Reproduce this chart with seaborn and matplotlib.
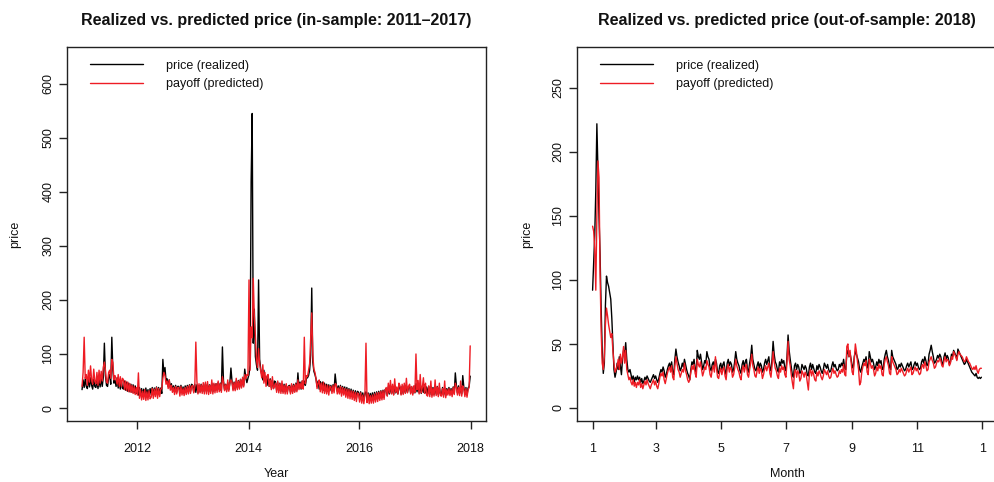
import pandas as pd
import matplotlib
matplotlib.use("Agg")
import matplotlib.pyplot as plt
import matplotlib.dates as mdates
import seaborn as sns

sns.set_theme(style="ticks")
plt.rcParams["font.family"] = ["Liberation Sans", "DejaVu Sans"]

# ---------------------------------------------------------------------------
# In-sample period 2011-2017, weekly observations (one block per year)
# ---------------------------------------------------------------------------
price_2011 = [34, 52, 38, 54, 40, 36, 55, 39, 56, 42, 35, 53, 40,
              38, 52, 36, 54, 39, 55, 40, 57, 120, 60, 42, 40, 56,
              62, 44, 131, 70, 46, 52, 40, 56, 37, 52, 35, 50, 37,
              35, 50, 33, 48, 31, 46, 30, 44, 29, 43, 28, 41, 27]
payoff_2011 = [40, 66, 131, 55, 62, 42, 70, 48, 78, 52, 44, 72, 50,
               45, 66, 42, 70, 46, 68, 50, 75, 85, 70, 48, 46, 66,
               70, 55, 90, 84, 52, 60, 54, 44, 62, 40, 58, 40, 55,
               52, 34, 50, 32, 48, 30, 45, 29, 42, 27, 40, 25, 38]

price_2012 = [37, 24, 38, 25, 36, 23, 35, 24, 37, 23, 34, 24, 36,
              25, 38, 24, 37, 26, 39, 25, 38, 26, 37, 27, 90, 62,
              75, 50, 54, 40, 52, 37, 45, 33, 41, 30, 42, 29, 40,
              40, 28, 42, 29, 39, 27, 41, 29, 42, 30, 43, 31, 44]
payoff_2012 = [24, 65, 18, 34, 15, 31, 16, 34, 14, 30, 15, 32, 17,
               20, 36, 18, 35, 21, 38, 18, 36, 21, 35, 36, 55, 66,
               60, 44, 50, 36, 52, 33, 42, 29, 38, 25, 40, 26, 38,
               38, 22, 40, 24, 36, 23, 38, 25, 40, 26, 42, 27, 40]

price_2013 = [42, 30, 44, 29, 43, 28, 42, 30, 44, 31, 42, 30, 45,
              31, 44, 30, 43, 31, 46, 30, 44, 32, 45, 33, 47, 34,
              46, 32, 113, 50, 34, 44, 33, 47, 34, 46, 74, 50, 35,
              48, 35, 50, 37, 51, 38, 53, 40, 54, 42, 72, 56, 47]
payoff_2013 = [42, 28, 38, 122, 50, 26, 45, 28, 43, 27, 47, 26, 48,
               26, 49, 25, 42, 27, 52, 26, 46, 28, 45, 29, 50, 30,
               45, 29, 58, 48, 32, 43, 30, 52, 31, 46, 52, 48, 32,
               47, 32, 55, 34, 50, 35, 53, 37, 57, 39, 62, 54, 62]

price_2014 = [55, 62, 80, 420, 545, 120, 183, 95, 80, 70, 237, 90, 72,
              62, 52, 70, 50, 58, 42, 58, 40, 54, 38, 52, 36, 50,
              48, 33, 47, 32, 46, 31, 45, 30, 44, 30, 43, 30, 40,
              42, 29, 43, 30, 44, 31, 46, 33, 65, 37, 48, 35, 50]
payoff_2014 = [60, 237, 70, 150, 130, 240, 170, 135, 90, 75, 110, 82, 68,
               56, 80, 46, 66, 40, 60, 62, 40, 52, 34, 58, 36, 40,
               46, 29, 50, 28, 45, 27, 50, 27, 42, 26, 45, 26, 40,
               40, 26, 45, 27, 42, 29, 45, 30, 52, 34, 46, 36, 50]

price_2015 = [38, 50, 42, 55, 56, 60, 70, 98, 222, 85, 68, 62, 54,
              40, 50, 35, 49, 37, 48, 33, 46, 32, 44, 31, 43, 32,
              42, 31, 43, 32, 63, 45, 31, 41, 30, 42, 28, 40, 29,
              39, 25, 38, 24, 36, 23, 35, 21, 33, 20, 32, 19, 31]
payoff_2015 = [35, 131, 45, 60, 58, 70, 82, 130, 176, 98, 72, 66, 55,
               36, 46, 52, 30, 46, 28, 48, 27, 43, 26, 42, 24, 40,
               39, 27, 42, 28, 45, 44, 26, 37, 26, 40, 22, 38, 24,
               36, 20, 35, 18, 34, 17, 32, 16, 31, 14, 29, 12, 28]

price_2016 = [29, 17, 30, 15, 28, 14, 27, 30, 16, 28, 15, 27, 16,
              28, 15, 29, 16, 30, 17, 31, 18, 32, 19, 33, 20, 34,
              36, 23, 39, 26, 41, 27, 40, 25, 42, 28, 37, 26, 39,
              39, 26, 40, 27, 41, 28, 42, 29, 38, 41, 28, 39, 27]
payoff_2016 = [26, 11, 28, 9, 24, 8, 25, 120, 10, 26, 8, 23, 9,
               24, 9, 26, 11, 28, 12, 29, 14, 31, 15, 32, 16, 33,
               38, 22, 46, 28, 51, 26, 44, 24, 54, 29, 39, 26, 46,
               41, 24, 44, 25, 46, 27, 55, 28, 40, 44, 26, 40, 24]

price_2017 = [40, 28, 45, 30, 43, 28, 42, 27, 41, 29, 43, 28, 39,
              26, 40, 25, 39, 24, 38, 25, 39, 26, 40, 25, 38, 26,
              25, 38, 24, 37, 23, 36, 27, 38, 26, 36, 25, 39, 27,
              65, 42, 28, 41, 27, 40, 26, 60, 39, 25, 38, 24, 37, 40, 59]
payoff_2017 = [41, 29, 100, 34, 51, 26, 62, 28, 38, 56, 27, 46, 24,
               22, 41, 21, 50, 20, 36, 22, 52, 23, 39, 21, 46, 23,
               22, 36, 20, 50, 19, 34, 24, 36, 23, 34, 21, 38, 25,
               46, 39, 24, 38, 23, 50, 22, 41, 36, 21, 36, 20, 34, 38, 115]

price_in = (price_2011 + price_2012 + price_2013 + price_2014
            + price_2015 + price_2016 + price_2017)
payoff_in = (payoff_2011 + payoff_2012 + payoff_2013 + payoff_2014
             + payoff_2015 + payoff_2016 + payoff_2017)

# ---------------------------------------------------------------------------
# Out-of-sample period 2018, daily observations (one row per week)
# ---------------------------------------------------------------------------
price_2018 = [
    92, 113, 135, 170, 222, 185, 150,
    120, 78, 45, 27, 35, 80, 103,
    98, 95, 90, 85, 70, 50, 30,
    24, 28, 35, 30, 40, 33, 26,
    38, 45, 42, 51, 38, 30, 28,
    30, 26, 22, 25, 20, 24, 22,
    25, 22, 24, 20, 23, 19, 21,
    24, 22, 25, 23, 21, 20, 22,
    24, 26, 23, 25, 22, 20, 23,
    27, 30, 28, 32, 29, 24, 26,
    30, 33, 35, 31, 36, 28, 26,
    38, 46, 40, 36, 33, 29, 31,
    35, 32, 38, 34, 30, 27, 25,
    22, 30, 36, 34, 38, 30, 28,
    45, 40, 38, 42, 36, 30, 33,
    37, 35, 44, 40, 38, 31, 29,
    34, 36, 32, 38, 35, 28, 27,
    33, 35, 30, 34, 36, 29, 26,
    35, 38, 33, 36, 34, 28, 30,
    36, 44, 38, 35, 33, 29, 27,
    34, 37, 32, 36, 38, 30, 28,
    35, 40, 49, 38, 34, 30, 29,
    33, 36, 31, 35, 33, 28, 30,
    35, 38, 34, 37, 40, 31, 29,
    38, 52, 42, 36, 34, 30, 28,
    36, 33, 38, 35, 37, 31, 29,
    40, 57, 45, 38, 32, 26, 24,
    33, 35, 30, 34, 32, 27, 28,
    34, 32, 30, 33, 31, 26, 25,
    32, 35, 30, 34, 31, 28, 27,
    33, 30, 34, 32, 29, 27, 30,
    35, 33, 31, 34, 30, 28, 29,
    33, 36, 32, 34, 31, 29, 30,
    34, 32, 35, 33, 38, 31, 30,
    42, 45, 40, 43, 38, 33, 31,
    40, 44, 42, 39, 36, 30, 28,
    32, 35, 38, 36, 40, 33, 31,
    44, 40, 36, 38, 35, 30, 32,
    36, 33, 38, 35, 37, 31, 30,
    38, 42, 45, 40, 37, 32, 30,
    45, 40, 38, 36, 34, 30, 31,
    34, 32, 35, 33, 31, 29, 30,
    33, 35, 32, 34, 36, 30, 31,
    34, 36, 33, 35, 32, 30, 31,
    36, 38, 35, 40, 37, 33, 34,
    42, 45, 49, 44, 40, 35, 36,
    38, 41, 39, 42, 40, 35, 34,
    40, 43, 38, 41, 39, 34, 36,
    42, 40, 45, 43, 41, 38, 46,
    44, 42, 40, 38, 36, 34, 35,
    38, 36, 34, 32, 30, 28, 27,
    26, 25, 27, 24, 23, 24, 23,
    24]
payoff_2018 = [
    142, 138, 125, 92, 150, 193, 180,
    105, 60, 35, 30, 40, 65, 78,
    72, 65, 60, 55, 58, 45, 35,
    28, 30, 33, 38, 30, 42, 35,
    40, 48, 35, 45, 30, 26, 22,
    24, 20, 18, 22, 17, 20, 16,
    20, 18, 22, 16, 19, 15, 18,
    21, 18, 22, 19, 17, 15, 18,
    20, 22, 18, 21, 17, 15, 19,
    24, 27, 25, 28, 22, 19, 23,
    27, 30, 32, 28, 33, 24, 22,
    33, 40, 35, 30, 28, 24, 27,
    30, 28, 35, 29, 26, 22, 20,
    22, 28, 33, 30, 34, 27, 24,
    38, 34, 32, 36, 30, 25, 28,
    32, 30, 37, 34, 32, 26, 24,
    30, 33, 28, 40, 31, 24, 23,
    28, 31, 26, 30, 32, 25, 22,
    31, 34, 28, 32, 30, 24, 26,
    31, 38, 33, 30, 28, 24, 22,
    30, 33, 28, 32, 34, 26, 24,
    30, 35, 42, 33, 30, 25, 24,
    29, 32, 27, 31, 29, 23, 26,
    30, 33, 29, 32, 35, 27, 24,
    33, 44, 36, 31, 29, 25, 23,
    31, 28, 33, 30, 32, 26, 24,
    36, 52, 38, 33, 26, 20, 15,
    28, 30, 24, 29, 27, 21, 23,
    29, 27, 24, 28, 26, 20, 14,
    27, 30, 25, 29, 26, 22, 21,
    28, 25, 29, 27, 24, 22, 25,
    30, 28, 26, 29, 25, 23, 24,
    28, 31, 27, 29, 26, 24, 25,
    29, 27, 30, 28, 34, 26, 25,
    48, 50, 40, 45, 36, 28, 26,
    38, 50, 44, 36, 30, 18, 20,
    28, 32, 35, 33, 37, 28, 26,
    38, 35, 31, 33, 30, 25, 27,
    32, 29, 34, 31, 33, 26, 25,
    34, 38, 40, 36, 33, 27, 26,
    40, 36, 34, 32, 30, 26, 27,
    30, 28, 31, 29, 27, 25, 26,
    29, 31, 28, 30, 32, 26, 27,
    30, 32, 29, 31, 28, 26, 27,
    32, 34, 31, 36, 33, 29, 30,
    36, 38, 40, 37, 35, 31, 32,
    35, 37, 36, 39, 37, 33, 32,
    37, 40, 36, 38, 37, 33, 35,
    40, 38, 44, 42, 40, 37, 42,
    44, 42, 41, 40, 38, 36, 37,
    40, 38, 36, 35, 33, 31, 30,
    32, 30, 33, 29, 27, 30, 31,
    31]

legend_labels = ["price (realized)", "payoff (predicted)"]
titles = ["Realized vs. predicted price (in-sample: 2011\u20132017)",
          "Realized vs. predicted price (out-of-sample: 2018)"]
month_ticks = ["1", "3", "5", "7", "9", "11", "1"]

BLACK = "#000000"
RED = "#ee1c24"

weeks_p = pd.date_range("2011-01-01", periods=len(price_in), freq="7D")
weeks_f = pd.date_range("2011-01-01", periods=len(payoff_in), freq="7D")
days_p = pd.date_range("2018-01-01", periods=len(price_2018), freq="D")
days_f = pd.date_range("2018-01-01", periods=len(payoff_2018), freq="D")

fig = plt.figure(figsize=(9.95, 4.82), dpi=100)
W, H = 995, 482
ax1 = fig.add_axes([67 / W, 61 / H, 419 / W, 374 / H])
ax2 = fig.add_axes([577 / W, 61 / H, 420 / W, 374 / H])

line_kw = dict(estimator=None, errorbar=None, linewidth=1.0)
sns.lineplot(x=weeks_p, y=price_in, ax=ax1, color=BLACK,
             label=legend_labels[0], **line_kw)
sns.lineplot(x=weeks_f, y=payoff_in, ax=ax1, color=RED,
             label=legend_labels[1], **line_kw)
sns.lineplot(x=days_p, y=price_2018, ax=ax2, color=BLACK,
             label=legend_labels[0], **line_kw)
sns.lineplot(x=days_f, y=payoff_2018, ax=ax2, color=RED,
             label=legend_labels[1], **line_kw)

# axis ranges
ax1.set_xlim(pd.Timestamp("2010-09-24"), pd.Timestamp("2018-04-13"))
ax1.set_ylim(-24, 668)
ax1.set_yticks(range(0, 601, 100))
ax1.set_xticks([pd.Timestamp(f"{y}-01-01") for y in (2012, 2014, 2016, 2018)])
ax1.xaxis.set_major_formatter(mdates.DateFormatter("%Y"))

ax2.set_xlim(pd.Timestamp("2018-01-01") - pd.Timedelta(days=14.6),
             pd.Timestamp("2018-12-31") + pd.Timedelta(days=14.6))
ax2.set_ylim(-10.2, 282)
ax2.set_yticks(range(0, 251, 50))
ax2.set_xticks([pd.Timestamp(d) for d in ("2018-01-01", "2018-03-01", "2018-05-01",
                                           "2018-07-01", "2018-09-01", "2018-11-01",
                                           "2019-01-01")])
ax2.set_xticklabels(month_ticks)

for ax, title, xlab in ((ax1, titles[0], "Year"), (ax2, titles[1], "Month")):
    for sp in ax.spines.values():
        sp.set_visible(True)
        sp.set_color("#222222")
        sp.set_linewidth(1.0)
    ax.tick_params(axis="both", direction="out", length=6, width=1.0,
                   color="#222222", labelsize=9, labelcolor="#111111")
    ax.tick_params(axis="x", pad=10)
    ax.tick_params(axis="y", pad=3, labelrotation=90)
    for lbl in ax.get_yticklabels():
        lbl.set_verticalalignment("center")
    ax.set_title(title, fontsize=11.5, fontweight="bold", pad=16, color="#111111")
    ax.set_xlabel(xlab, fontsize=9, color="#111111")
    ax.set_ylabel("price", fontsize=9, color="#111111")
    ax.grid(False)
    leg = ax.legend(loc="upper left", bbox_to_anchor=(0.055, 0.966),
                    frameon=False, fontsize=9, handlelength=4.2,
                    handletextpad=1.9, labelspacing=0.5,
                    borderaxespad=0, borderpad=0)
    for t in leg.get_texts():
        t.set_color("#111111")

ax1.xaxis.set_label_coords(0.5, -47 / 374)
ax2.xaxis.set_label_coords(0.5, -47 / 374)
ax1.yaxis.set_label_coords(-46 / 419, 0.5)
ax2.yaxis.set_label_coords(-44 / 420, 0.5)

fig.savefig("out.png", dpi=100, facecolor="white")
